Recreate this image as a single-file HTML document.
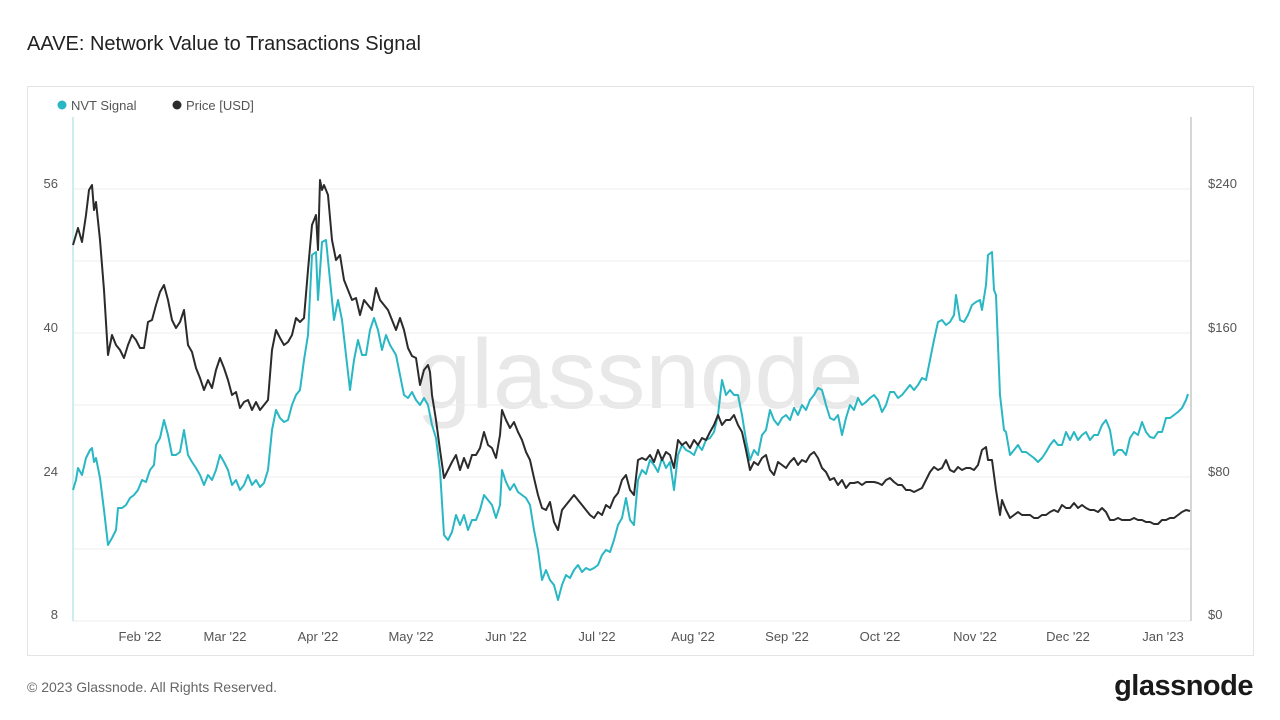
<!DOCTYPE html>
<html><head><meta charset="utf-8"><style>
body{margin:0;width:1280px;height:720px;background:#fff;font-family:"Liberation Sans",sans-serif;overflow:hidden;position:relative}
.t{position:absolute;left:27px;top:33px;font-size:20px;color:#222}
.f{position:absolute;left:27px;top:679px;font-size:14px;color:#666}
.l{position:absolute;right:27px;top:670px;font-size:29px;font-weight:bold;color:#1a1a1a;letter-spacing:-0.5px}
.p{position:absolute;left:27px;top:86px;width:1225px;height:568px;border:1px solid #e4e4e4}
</style></head><body>
<div class="t">AAVE: Network Value to Transactions Signal</div>
<div class="p"></div>
<svg style="position:absolute;left:0;top:0" width="1280" height="720">
<text x="640" y="408" text-anchor="middle" font-size="98" fill="#e8e8e8" font-family="Liberation Sans">glassnode</text>
<g stroke="#ececec" stroke-width="1">
<line x1="73" x2="1191" y1="189" y2="189"/><line x1="73" x2="1191" y1="261" y2="261"/><line x1="73" x2="1191" y1="333" y2="333"/><line x1="73" x2="1191" y1="405" y2="405"/><line x1="73" x2="1191" y1="477" y2="477"/><line x1="73" x2="1191" y1="549" y2="549"/><line x1="73" x2="1191" y1="621" y2="621"/>
</g>
<line x1="73" x2="73" y1="117" y2="621" stroke="#bfe6ea" stroke-width="1.5"/>
<line x1="1191" x2="1191" y1="117" y2="621" stroke="#c8c8c8" stroke-width="1.5"/>
<g font-size="13" fill="#555">
<text x="58" y="188" text-anchor="end">56</text><text x="58" y="332" text-anchor="end">40</text><text x="58" y="476" text-anchor="end">24</text><text x="58" y="619" text-anchor="end">8</text>
<text x="1208" y="188">$240</text><text x="1208" y="332">$160</text><text x="1208" y="476">$80</text><text x="1208" y="619">$0</text>
<g text-anchor="middle"><text x="140" y="641">Feb '22</text><text x="225" y="641">Mar '22</text><text x="318" y="641">Apr '22</text><text x="411" y="641">May '22</text><text x="506" y="641">Jun '22</text><text x="597" y="641">Jul '22</text><text x="693" y="641">Aug '22</text><text x="787" y="641">Sep '22</text><text x="880" y="641">Oct '22</text><text x="975" y="641">Nov '22</text><text x="1068" y="641">Dec '22</text><text x="1163" y="641">Jan '23</text></g>
<circle cx="62" cy="105" r="4.5" fill="#2ab7c4"/><text x="71" y="110">NVT Signal</text>
<circle cx="177" cy="105" r="4.5" fill="#2b2b2b"/><text x="186" y="110">Price [USD]</text>
</g>
<polyline fill="none" stroke="#2ab7c4" stroke-width="2" stroke-linejoin="round" points="73,490 76,480 78,468 82,475 86,458 90,450 92,448 94,462 96,458 100,478 104,510 108,545 112,538 116,530 118,508 122,508 126,505 130,498 134,495 138,490 142,480 146,482 150,470 154,465 156,445 160,438 164,420 168,435 172,455 176,455 180,452 184,430 188,455 192,462 196,468 200,475 204,485 208,475 212,480 216,470 220,455 224,462 228,470 232,485 236,480 240,490 244,485 248,475 252,485 256,480 260,487 264,483 268,470 272,430 276,410 280,418 284,422 288,420 292,405 296,395 300,390 304,360 308,335 312,255 316,252 318,300 322,242 326,240 330,280 334,320 338,300 342,320 346,355 350,390 354,360 358,340 362,355 366,355 370,330 374,318 378,330 382,350 386,335 390,345 396,355 400,375 404,395 408,398 412,392 416,400 420,405 424,398 428,405 432,425 436,438 440,470 444,535 448,540 452,532 456,515 460,525 464,515 468,530 472,520 476,520 480,510 484,495 488,500 492,505 496,518 500,505 502,470 506,482 510,490 514,484 518,492 522,495 526,498 530,505 534,530 538,550 542,580 546,570 550,580 554,585 558,600 562,585 566,575 570,578 574,570 578,565 582,572 586,568 590,570 594,568 598,565 602,555 606,550 610,552 614,540 618,525 622,518 626,498 630,520 634,525 638,480 642,470 646,474 650,460 654,465 658,472 662,458 666,468 670,462 674,490 678,455 682,445 686,450 690,452 694,455 698,445 702,450 706,440 710,438 714,432 718,415 722,380 726,395 730,390 734,395 738,395 742,415 746,440 750,460 754,450 758,455 762,435 766,430 770,410 774,420 778,425 782,418 786,415 790,420 794,408 798,415 802,405 806,410 810,400 814,395 818,388 822,390 826,405 830,418 834,420 838,415 842,435 846,418 850,405 854,410 858,398 862,405 866,402 870,398 874,395 878,400 882,412 886,405 890,392 894,392 898,398 902,395 906,390 910,385 914,390 918,385 922,378 926,380 930,360 934,340 938,322 942,320 946,325 950,322 954,315 956,295 960,320 964,322 968,315 972,305 976,302 980,300 982,310 986,285 988,255 992,252 994,290 996,295 1000,395 1004,430 1006,432 1010,455 1014,450 1018,445 1022,452 1026,452 1030,455 1034,458 1038,462 1042,458 1046,452 1050,445 1054,440 1058,445 1062,445 1066,432 1070,440 1074,432 1078,440 1082,435 1086,432 1090,440 1094,435 1098,435 1102,425 1106,420 1110,430 1114,455 1118,450 1122,450 1126,455 1130,438 1134,432 1138,435 1142,422 1146,432 1150,437 1154,438 1158,432 1162,432 1166,418 1170,418 1174,415 1178,412 1182,408 1186,400 1188,394"/>
<polyline fill="none" stroke="#2b2b2b" stroke-width="2" stroke-linejoin="round" points="73,245 78,228 82,242 86,215 89,190 92,185 94,210 96,202 100,240 104,290 108,355 112,335 116,345 120,350 124,358 128,345 132,335 136,340 140,348 144,348 148,322 152,320 156,305 160,292 164,285 168,300 172,320 176,328 180,322 184,310 188,345 192,352 196,368 200,378 204,390 208,380 212,388 216,370 220,358 224,368 228,380 232,395 236,392 240,408 244,402 248,400 252,410 256,402 260,410 264,405 268,400 272,350 276,330 280,338 284,345 288,342 292,335 296,318 300,322 304,318 308,270 312,225 316,215 318,250 320,180 322,190 324,185 328,195 332,240 336,260 340,255 344,280 348,290 352,300 356,298 360,315 364,300 368,305 372,310 376,288 380,300 384,305 388,310 392,320 396,330 400,318 404,330 408,348 412,356 416,358 420,385 424,370 428,365 430,372 432,395 436,420 440,450 444,478 448,470 452,462 456,455 460,470 464,458 468,468 472,455 476,455 480,448 484,432 488,445 492,448 496,458 500,435 502,410 506,420 510,428 514,422 518,432 522,440 526,452 530,460 534,478 538,495 542,508 546,510 550,502 554,522 558,530 562,510 566,505 570,500 574,495 578,500 582,505 586,510 590,515 594,518 598,512 602,515 606,505 610,508 614,498 618,493 622,480 626,475 630,490 634,495 638,460 642,458 646,460 650,455 654,462 658,450 662,460 666,452 670,455 674,468 678,440 682,445 686,442 690,448 694,440 698,445 702,438 706,440 710,432 714,425 718,415 722,425 726,420 730,420 734,415 738,425 742,432 746,450 750,470 754,462 758,465 762,458 766,455 770,470 774,475 778,462 782,465 786,468 790,462 794,458 798,465 802,460 806,462 810,455 814,452 818,458 822,468 826,472 830,480 834,478 838,485 842,480 846,488 850,483 854,483 858,482 862,485 866,482 870,482 874,482 878,483 882,485 886,480 890,478 894,482 898,485 902,485 906,490 910,490 914,492 918,490 922,488 926,480 930,472 934,467 938,470 942,468 946,460 950,470 954,472 958,467 962,470 966,468 970,468 974,470 978,465 982,450 986,447 988,460 992,460 996,490 1000,515 1002,500 1006,510 1010,518 1014,515 1018,512 1022,515 1026,515 1030,515 1034,518 1038,518 1042,515 1046,515 1050,512 1054,510 1058,512 1062,505 1066,508 1070,508 1074,503 1078,508 1082,505 1086,508 1090,510 1094,510 1098,512 1102,508 1106,512 1110,520 1114,520 1118,518 1122,520 1126,520 1130,520 1134,518 1138,520 1142,520 1146,522 1150,522 1154,524 1158,524 1162,520 1166,520 1170,518 1174,518 1178,515 1182,512 1186,510 1190,511"/>
</svg>
<div class="f">© 2023 Glassnode. All Rights Reserved.</div>
<div class="l">glassnode</div>
</body></html>
